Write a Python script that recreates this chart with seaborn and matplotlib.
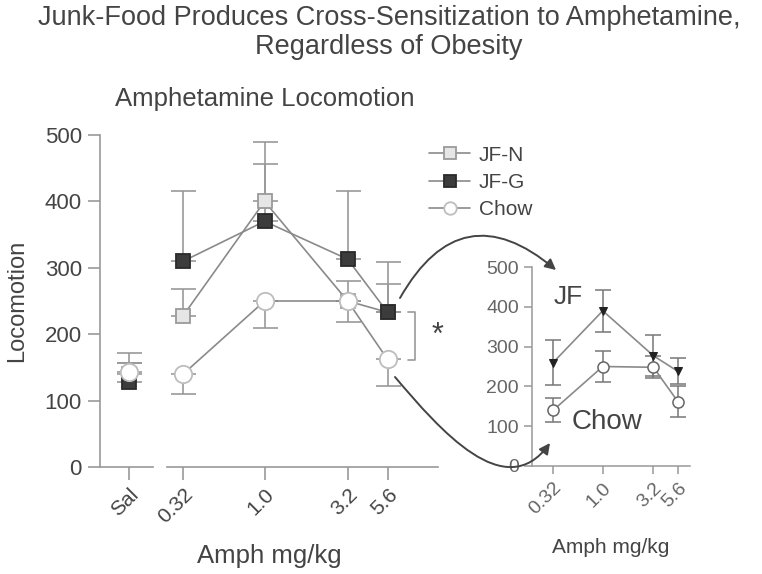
import numpy as np
import pandas as pd
import matplotlib
matplotlib.use("Agg")
import matplotlib.pyplot as plt
from matplotlib.path import Path
from matplotlib.patches import FancyArrowPatch
import seaborn as sns

# data
doses = [0.32, 1.0, 3.2, 5.6]
dose_labels = ["0.32", "1.0", "3.2", "5.6"]

jfn_sal, jfg_sal, chow_sal = 140, 128, 143
jfn_sal_up, jfg_sal_up, chow_sal_up = 32, 28, 14

jfn = [228, 400, 250, 233]
jfg = [310, 370, 313, 233]
chow = [140, 250, 250, 162]
jfn_up = [40, 57, 30, 43]
jfg_up = [105, 120, 102, 75]
chow_down = [30, 40, 32, 40]

# inset: JF pooled vs chow
jf_pool = [260, 390, 277, 238]
jf_pool_err = [56, 53, 52, 33]
chow_in = [140, 250, 248, 162]
chow_in_err = [30, 40, 28, 40]

W, H = 762, 574
def fx(x):
    return x / W
def fy(y):
    return 1 - y / H

sns.set_style("ticks")
plt.rcParams["font.family"] = ["Liberation Sans", "DejaVu Sans"]
txt = "#444444"
axc = "#999999"
linec = "#8a8a8a"

fig = plt.figure(figsize=(7.62, 5.74), dpi=100)

ax_sal = fig.add_axes([fx(100), fy(467), (153 - 100) / W, (467 - 135) / H])
ax = fig.add_axes([fx(167), fy(467), (438 - 167) / W, (467 - 135) / H])
axi = fig.add_axes([fx(532), fy(466), (690 - 532) / W, (466 - 267) / H])

styles = {
    "JF-N": dict(marker="s", markersize=10.5, markerfacecolor="#e6e6e6", markeredgecolor="#9a9a9a"),
    "JF-G": dict(marker="s", markersize=10.5, markerfacecolor="#3c3c3c", markeredgecolor="#2a2a2a"),
    "Chow": dict(marker="o", markersize=12.5, markerfacecolor="white", markeredgecolor="#bdbdbd"),
}

# saline panel
sal = pd.DataFrame({"x": [0, 0, 0], "y": [jfn_sal, jfg_sal, chow_sal],
                    "g": ["JF-N", "JF-G", "Chow"]})
ax_sal.errorbar([0, 0, 0], sal["y"], yerr=[[0, 0, 0], [jfn_sal_up, jfg_sal_up, chow_sal_up]],
                fmt="none", ecolor=axc, elinewidth=1.2, capsize=9, capthick=1.2, zorder=1)
for g in ["JF-N", "JF-G", "Chow"]:
    s = sal[sal["g"] == g]
    sns.lineplot(x=s["x"], y=s["y"], ax=ax_sal, color=linec, linewidth=1.2,
                 markeredgewidth=1.3, zorder=3, **styles[g])

# dose panel
ax.errorbar(doses, jfn, yerr=[[0] * 4, jfn_up], fmt="none", ecolor=axc,
            elinewidth=1.2, capsize=9, capthick=1.2, zorder=1)
ax.errorbar(doses, jfg, yerr=[[0] * 4, jfg_up], fmt="none", ecolor=axc,
            elinewidth=1.2, capsize=9, capthick=1.2, zorder=1)
ax.errorbar(doses, chow, yerr=[chow_down, [0] * 4], fmt="none", ecolor=axc,
            elinewidth=1.2, capsize=9, capthick=1.2, zorder=1)
for g, vals in [("JF-N", jfn), ("JF-G", jfg), ("Chow", chow)]:
    sns.lineplot(x=doses, y=vals, ax=ax, color=linec, linewidth=1.2, label=g,
                 markeredgewidth=1.3, zorder=3, **styles[g])

for a in (ax_sal, ax):
    a.set_ylim(0, 500)
    sns.despine(ax=a)
    a.tick_params(colors=axc, labelcolor=txt, width=1.2, length=9, pad=4, labelsize=16)
    for sp in a.spines.values():
        sp.set_color(axc)
        sp.set_linewidth(1.2)
    a.set_xlabel("")
    a.set_ylabel("")

ax_sal.set_xlim(-1, 0.83)
ax_sal.set_xticks([0])
ax_sal.set_xticklabels(["Sal"], rotation=45, ha="right", rotation_mode="anchor", fontsize=15)
ax_sal.set_yticks([0, 100, 200, 300, 400, 500])
ax_sal.set_ylabel("Locomotion", fontsize=17, color=txt, labelpad=12)

ax.set_xscale("log")
ax.set_xlim(0.255, 11.35)
ax.set_xticks(doses)
ax.set_xticklabels(dose_labels, rotation=45, ha="right", rotation_mode="anchor", fontsize=15)
ax.minorticks_off()
ax.spines["left"].set_visible(False)
ax.set_yticks([])

leg = ax.legend(loc="upper left", bbox_to_anchor=(fx(410), fy(127)),
                bbox_transform=fig.transFigure, frameon=False, fontsize=15,
                handlelength=2.0, labelspacing=0.4, handletextpad=0.4, labelcolor=txt)
for h in leg.legend_handles:
    h.set_markersize(9)

# significance bracket
ax.plot([7.45, 8.22, 8.22, 7.45], [233, 233, 161, 161], color=axc, lw=1.2, clip_on=False)
ax.text(11.3, 197, "*", fontsize=22, color=txt, ha="center", va="center")

# inset
axi.errorbar(doses, jf_pool, yerr=jf_pool_err, fmt="none", ecolor="#777777",
             elinewidth=1.1, capsize=6, capthick=1.1, zorder=1)
axi.errorbar(doses, chow_in, yerr=chow_in_err, fmt="none", ecolor="#777777",
             elinewidth=1.1, capsize=6, capthick=1.1, zorder=1)
sns.lineplot(x=doses, y=jf_pool, ax=axi, color=linec, linewidth=1.2, marker="v",
             markersize=6, markerfacecolor="#222222", markeredgecolor="#222222", zorder=3)
sns.lineplot(x=doses, y=chow_in, ax=axi, color=linec, linewidth=1.2, marker="o",
             markersize=8, markerfacecolor="white", markeredgecolor="#666666",
             markeredgewidth=1.1, zorder=3)
axi.set_xscale("log")
axi.set_xlim(0.197, 7.41)
axi.set_ylim(0, 500)
axi.set_xticks(doses)
axi.set_xticklabels(dose_labels, rotation=45, ha="right", rotation_mode="anchor")
axi.minorticks_off()
axi.set_yticks([0, 100, 200, 300, 400, 500])
sns.despine(ax=axi)
axi.tick_params(colors=axc, labelcolor="#666666", width=1.1, length=6, labelsize=14)
for sp in axi.spines.values():
    sp.set_color(axc)
    sp.set_linewidth(1.1)
axi.set_xlabel("Amph mg/kg", fontsize=15, color=txt, labelpad=14)
axi.set_ylabel("")
axi.text(0.45, 425, "JF", fontsize=19, color=txt, ha="center", va="center")
axi.text(1.1, 110, "Chow", fontsize=20, color=txt, ha="center", va="center")

# texts
fig.text(fx(389), fy(18), "Junk-Food Produces Cross-Sensitization to Amphetamine,",
         fontsize=19.5, color=txt, ha="center", va="center")
fig.text(fx(389), fy(47), "Regardless of Obesity", fontsize=19.5, color=txt,
         ha="center", va="center")
fig.text(fx(115), fy(99), "Amphetamine Locomotion", fontsize=18.5, color=txt,
         ha="left", va="center")
fig.text(fx(269), fy(556), "Amph mg/kg", fontsize=18.5, color=txt, ha="center", va="center")

# curved arrows to the inset
arrow_kw = dict(arrowstyle="-|>", color="#444444", lw=1.4, mutation_scale=16,
                shrinkA=0, shrinkB=0)
fig.add_artist(FancyArrowPatch(
    (fx(400), fy(298)), (fx(556), fy(270)), transform=fig.transFigure,
    connectionstyle="arc3,rad=-0.6", **arrow_kw))
low_pts = [(395, 377), (440, 430), (505, 505), (550, 443)]
low_path = Path([(fx(x), fy(y)) for x, y in low_pts],
                [Path.MOVETO, Path.CURVE4, Path.CURVE4, Path.CURVE4])
fig.add_artist(FancyArrowPatch(path=low_path, transform=fig.transFigure, **arrow_kw))

fig.savefig("out.png", dpi=100)
